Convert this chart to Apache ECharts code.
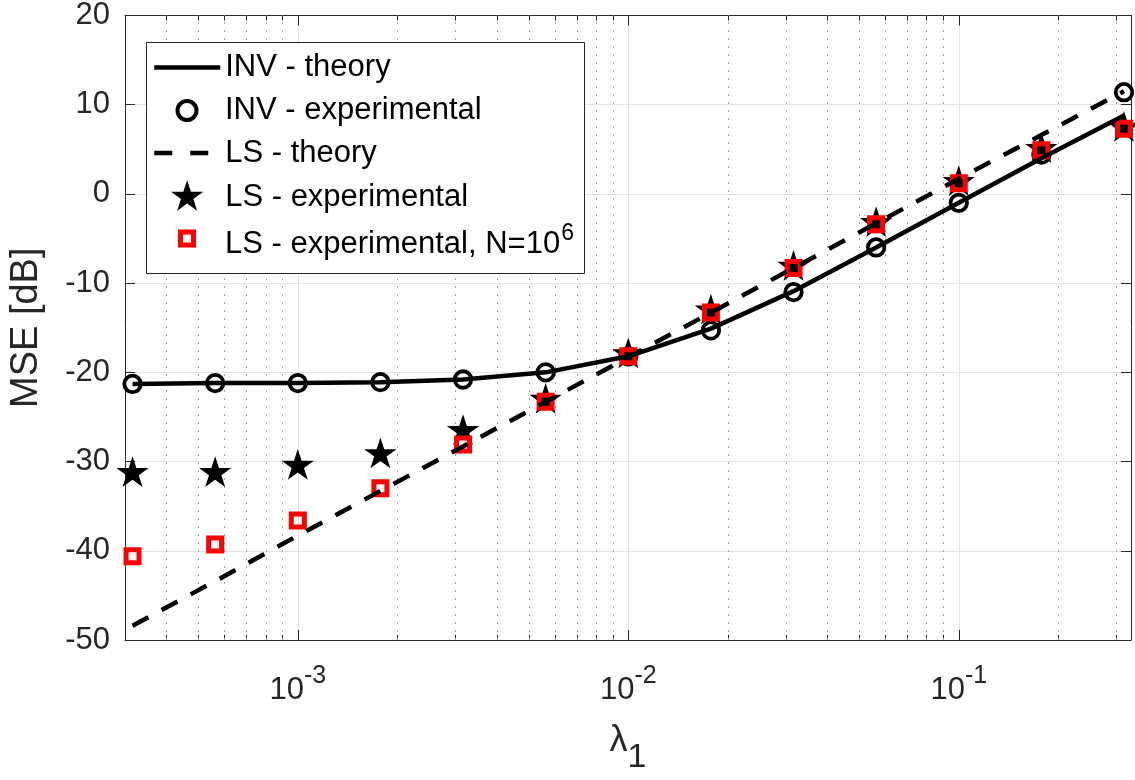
<!DOCTYPE html>
<html>
<head>
<meta charset="utf-8">
<title>MSE vs lambda_1</title>
<script src="https://cdn.jsdelivr.net/npm/echarts@6/dist/echarts.min.js"></script>
<style>
  html, body { margin: 0; padding: 0; background: #fff; }
  #main { width: 1135px; height: 780px; }
</style>
</head>
<body>
<div id="main"></div>
<script>
// lambda_1 values (quarter decades from 10^-3.5 to 10^-0.5)
const lambda = [3.162e-4, 5.623e-4, 1e-3, 1.778e-3, 3.162e-3, 5.623e-3, 1e-2, 1.778e-2, 3.162e-2, 5.623e-2, 0.1, 0.1778, 0.3162];

// MSE [dB]
const invTheory = [-21.3, -21.2, -21.2, -21.1, -20.8, -20.0, -18.2, -15.1, -10.9, -6.0, -1.0, 4.0, 8.8];
const invExp = [-21.3, -21.2, -21.2, -21.1, -20.8, -20.0, -18.2, -15.3, -11.0, -6.0, -1.0, 4.4, 11.4];
const lsTheory = [-48.4, -43.4, -38.3, -33.3, -28.3, -23.3, -18.3, -13.3, -8.3, -3.3, 1.7, 6.6, 11.5];
const lsExp = [-31.3, -31.3, -30.5, -29.2, -26.6, -23.1, -18.0, -13.1, -8.2, -3.3, 1.3, 5.0, 7.4];
const lsExpN6 = [-40.6, -39.3, -36.6, -33.0, -28.1, -23.3, -18.2, -13.3, -8.3, -3.4, 1.2, 4.9, 7.3];

// minor ticks of the log axis
const xMinorTicks = [4e-4, 5e-4, 6e-4, 7e-4, 8e-4, 9e-4,
  2e-3, 3e-3, 4e-3, 5e-3, 6e-3, 7e-3, 8e-3, 9e-3,
  2e-2, 3e-2, 4e-2, 5e-2, 6e-2, 7e-2, 8e-2, 9e-2,
  0.2, 0.3];

const names = ['INV - theory', 'INV - experimental', 'LS - theory', 'LS - experimental', 'LS - experimental, N=10^6'];

const FONT = "'Liberation Sans', Arial, Helvetica, sans-serif";
const AXIS_COLOR = '#262626';
const STAR = 'path://M50 100M50 0L61.23 34.55L97.55 34.55L68.17 55.9L79.39 90.45L50 69.1L20.61 90.45L31.83 55.9L2.45 34.55L38.77 34.55Z';
const SQUARE = 'path://M0 0L10 0L10 10L0 10Z';

function pairs(ys) {
  return ys.map((y, i) => [lambda[i], y]);
}

// 10^n labels
function powLabel(v) {
  const e = Math.round(Math.log10(v));
  if (Math.abs(Math.log10(v) - e) > 1e-6) return '';
  return '{b|10}{s|' + e + '}';
}

const xMin = 3e-4;
const xMax = 0.332;

function xAxisBase(position) {
  return {
    type: 'log',
    logBase: 10,
    position: position,
    min: xMin,
    max: xMax,
    axisLine: { show: true, onZero: false, lineStyle: { color: AXIS_COLOR, width: 1 } },
    axisLabel: { show: false },
    splitLine: { show: false },
    axisTick: { show: true, inside: true, length: 10, lineStyle: { color: AXIS_COLOR } }
  };
}

function minorAxis(position) {
  const ax = xAxisBase(position);
  ax.axisLine = { show: false, onZero: false };
  ax.axisTick = { show: true, inside: true, length: 5, customValues: xMinorTicks, lineStyle: { color: AXIS_COLOR } };
  return ax;
}

const mainX = xAxisBase('bottom');
mainX.splitLine = { show: true, lineStyle: { color: '#e3e3e3', width: 1 } };
mainX.axisLabel = {
  show: true,
  margin: 24,
  showMinLabel: false,
  showMaxLabel: false,
  formatter: powLabel,
  color: AXIS_COLOR,
  fontFamily: FONT,
  rich: {
    b: { fontSize: 31, lineHeight: 31, verticalAlign: 'bottom', color: AXIS_COLOR, fontFamily: FONT },
    s: { fontSize: 25, padding: [0, 0, 17, 0], verticalAlign: 'top', color: AXIS_COLOR, fontFamily: FONT }
  }
};
mainX.name = '{l|λ}{s|1}';
mainX.nameLocation = 'middle';
mainX.nameGap = 83;
mainX.nameTextStyle = {
  color: AXIS_COLOR,
  rich: {
    l: { fontSize: 36, lineHeight: 36, verticalAlign: 'top', color: AXIS_COLOR, fontFamily: FONT },
    s: { fontSize: 34, padding: [18, 0, 0, 0], verticalAlign: 'bottom', color: AXIS_COLOR, fontFamily: FONT }
  }
};

const textStyle = { fontFamily: FONT, fontSize: 31, lineHeight: 31, color: '#000' };

function legendItem(name, left, top, itemHeight, extra) {
  return Object.assign({
    show: true,
    data: [name],
    orient: 'vertical',
    left: left,
    top: top,
    padding: 0,
    itemWidth: 66,
    itemHeight: itemHeight,
    selectedMode: false,
    textStyle: textStyle,
    z: 4
  }, extra);
}

const option = {
  animation: false,
  backgroundColor: '#fff',
  grid: { left: 121, right: 4, top: 11, bottom: 138 },
  xAxis: [mainX, minorAxis('bottom'), xAxisBase('top'), minorAxis('top')],
  yAxis: [
    {
      type: 'value',
      position: 'left',
      min: -50,
      max: 20,
      interval: 10,
      name: 'MSE [dB]',
      nameLocation: 'middle',
      nameGap: 79,
      nameTextStyle: { fontFamily: FONT, fontSize: 38, color: AXIS_COLOR },
      axisLine: { show: true, onZero: false, lineStyle: { color: AXIS_COLOR, width: 1 } },
      axisTick: { show: true, inside: true, length: 10, lineStyle: { color: AXIS_COLOR } },
      axisLabel: { margin: 15, fontFamily: FONT, fontSize: 31, color: AXIS_COLOR },
      splitLine: { show: true, lineStyle: { color: '#e3e3e3', width: 1 } }
    },
    {
      type: 'value',
      position: 'right',
      min: -50,
      max: 20,
      interval: 10,
      axisLine: { show: true, onZero: false, lineStyle: { color: AXIS_COLOR, width: 1 } },
      axisTick: { show: true, inside: true, length: 10, lineStyle: { color: AXIS_COLOR } },
      axisLabel: { show: false },
      splitLine: { show: false }
    }
  ],
  // legend frame
  graphic: [{
    type: 'rect',
    z: 3,
    shape: { x: 146.5, y: 42.5, width: 438, height: 231 },
    style: { fill: '#fff', stroke: AXIS_COLOR, lineWidth: 1 }
  }],
  // one legend per row so every icon can have its own size
  legend: [
    legendItem(names[0], 152, 52, 16, {
      itemStyle: { opacity: 0 },
      lineStyle: { width: 4.5, color: '#000', type: 'solid' }
    }),
    legendItem(names[1], 175.5, 95, 19, {
      itemStyle: { color: 'transparent', borderColor: '#000', borderWidth: 4, opacity: 1 }
    }),
    legendItem(names[2], 152, 137.5, 16, {
      itemStyle: { opacity: 0 },
      lineStyle: { width: 4.5, color: '#000', type: [18, 18] }
    }),
    legendItem(names[3], 171, 180, 34, {
      itemStyle: { color: '#000', borderWidth: 0, opacity: 1 }
    }),
    legendItem(names[4], 178, 222, 13, {
      data: [{ name: names[4], icon: SQUARE }],
      itemStyle: { color: 'transparent', borderColor: '#ff0000', borderWidth: 5, opacity: 1 },
      formatter: function () { return '{b|LS - experimental, N=10}{p|6}'; },
      textStyle: {
        fontFamily: FONT, fontSize: 31, color: '#000',
        rich: {
          b: { fontFamily: FONT, fontSize: 31, lineHeight: 31, verticalAlign: 'bottom', color: '#000' },
          p: { fontFamily: FONT, fontSize: 23, padding: [5, 0, 15, 1], verticalAlign: 'top', color: '#000' }
        }
      }
    })
  ],
  series: [
    {
      name: names[0],
      type: 'line',
      data: pairs(invTheory),
      symbol: 'none',
      lineStyle: { color: '#000', width: 4.5 },
      itemStyle: { color: '#000' },
      // dotted minor grid at the log minor ticks
      markLine: {
        silent: true,
        z: 1,
        precision: 8,
        symbol: ['none', 'none'],
        label: { show: false },
        emphasis: { disabled: true },
        lineStyle: { color: '#a6a6a6', width: 1, type: [2, 6] },
        data: xMinorTicks.map(v => ({ xAxis: v }))
      }
    },
    {
      name: names[1],
      type: 'scatter',
      data: pairs(invExp),
      symbol: 'circle',
      symbolSize: 16.5,
      itemStyle: { color: 'transparent', borderColor: '#000', borderWidth: 3.8, opacity: 1 }
    },
    {
      name: names[2],
      type: 'line',
      data: pairs(lsTheory),
      symbol: 'none',
      lineStyle: { color: '#000', width: 4.5, type: [18, 15] },
      itemStyle: { color: '#000' }
    },
    {
      name: names[3],
      type: 'scatter',
      data: pairs(lsExp),
      symbol: STAR,
      symbolKeepAspect: true,
      symbolSize: 34,
      itemStyle: { color: '#000', opacity: 1 }
    },
    {
      name: names[4],
      type: 'scatter',
      data: pairs(lsExpN6),
      symbol: 'rect',
      symbolSize: 13,
      itemStyle: { color: 'transparent', borderColor: '#ff0000', borderWidth: 5, opacity: 1 }
    }
  ]
};

const myChart = echarts.init(document.getElementById('main'));
myChart.setOption(option);
window.addEventListener('resize', () => {
  myChart.resize();
});
</script>
</body>
</html>
